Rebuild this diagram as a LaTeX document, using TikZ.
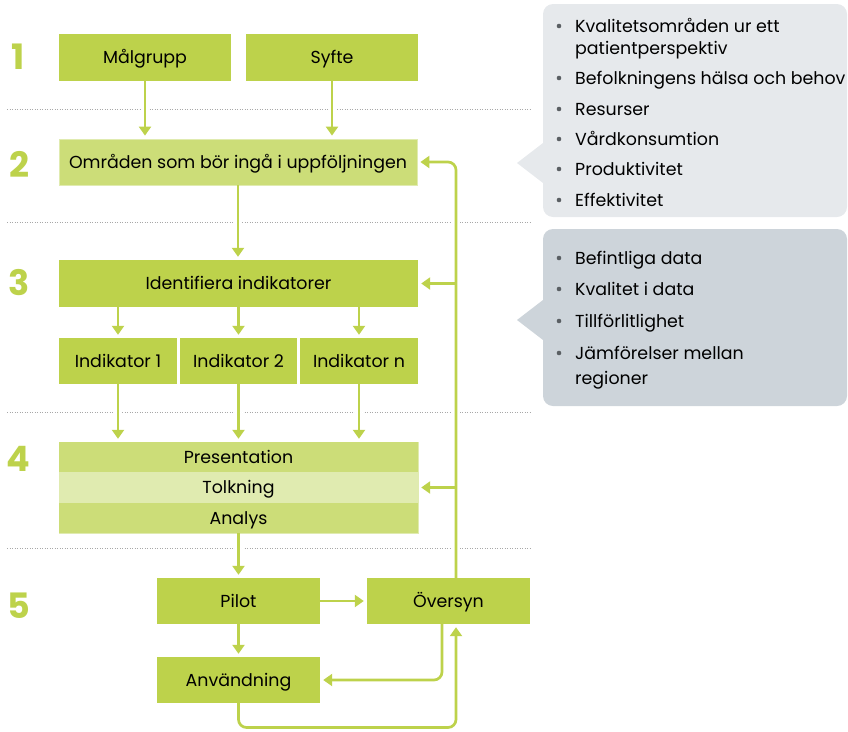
\documentclass[tikz,border=0pt]{standalone}
\usepackage{fontspec}
\setmainfont{Poppins}
\usetikzlibrary{arrows.meta,calc}
\definecolor{gA}{HTML}{BDD24B}
\definecolor{gB}{HTML}{CCDD78}
\definecolor{gC}{HTML}{E0EBB0}
\definecolor{cA}{HTML}{E6E9EC}
\definecolor{cB}{HTML}{CDD4DA}
\definecolor{dotc}{HTML}{A8A8A8}
\definecolor{bul}{HTML}{5A5F63}
\newcommand{\mainsz}{\fontsize{17.4}{20}\selectfont}
\newcommand{\numsz}{\fontsize{35}{35}\selectfont\bfseries}
\tikzset{
  box/.style={rectangle, inner sep=0pt, text=black, font=\mainsz, text height=12pt, text depth=0pt},
  dark/.style={box, fill=gA},
  light/.style={box, fill=gB, draw=gC, line width=0.8pt},
  lighter/.style={box, fill=gC},
  conn/.style={draw=gA, line width=2.7pt, -{Triangle[length=9pt,width=12pt]}, shorten >=3pt},
  dotline/.style={draw=dotc, line width=1pt, dash pattern=on 0.9pt off 1.6pt},
  gapw/.style={draw=white, line width=3pt},
  num/.style={font=\numsz, text=gA, inner sep=0pt},
  item/.style={anchor=base west, inner sep=0pt, font=\mainsz, text=black},
  bullet/.style={circle, fill=bul, inner sep=0pt, minimum size=4.6pt}
}
\begin{document}
\begin{tikzpicture}[x=1pt,y=-1pt]
\useasboundingbox (0,0) rectangle (848,731);

% callouts
\fill[cA, rounded corners=10pt] (543,4) rectangle (847,217);
\fill[cA] (543,143) -- (517,163) -- (543,183) -- cycle;
\fill[cB, rounded corners=10pt] (543,229) rectangle (847,406);
\fill[cB] (543,300) -- (517,320) -- (543,340) -- cycle;

% dotted separators
\coordinate (l1) at (0,109);
\coordinate (l2) at (0,222);
\coordinate (l3) at (0,412);
\coordinate (l4) at (0,548);
\coordinate (trk) at (456,0);
\coordinate (bot) at (0,727.5);
\foreach \y in {109,222,412,548} \draw[dotline] (7,\y) -- (531,\y);

% step numbers
\node[num] (n1) at (18,57) {1};
\node[num] (n2) at (19,164) {2};
\node[num] (n3) at (19,283) {3};
\node[num] (n4) at (18,459) {4};
\node[num] (n5) at (19,606) {5};

% boxes
\node[dark, minimum width=172pt, minimum height=47pt] (mal) at (145,57.5) {Målgrupp};
\node[dark, minimum width=172pt, minimum height=47pt] (syf) at (332,57.5) {Syfte};
\node[light, minimum width=358pt, minimum height=46pt] (omr) at (238,162) {Områden som bör ingå i uppföljningen};
\node[dark, minimum width=359pt, minimum height=47pt] (ide) at (238.5,283.5) {Identifiera indikatorer};
\node[dark, minimum width=118pt, minimum height=46pt] (i1) at (118,361) {Indikator 1};
\node[dark, minimum width=117pt, minimum height=46pt] (i2) at (238.5,361) {Indikator 2};
\node[dark, minimum width=118pt, minimum height=46pt] (in) at (359,361) {Indikator n};
\fill[gC] (58.5,441.5) rectangle (418.5,533.5);
\node[box, fill=gB, minimum width=359pt, minimum height=30pt] (pre) at (238.5,457) {Presentation};
\node[lighter, minimum width=359pt, minimum height=31pt] (tol) at (238.5,487.5) {Tolkning};
\node[box, fill=gB, minimum width=359pt, minimum height=30pt] (ana) at (238.5,518) {Analys};
\node[dark, minimum width=163pt, minimum height=46pt] (pil) at (238.5,601) {Pilot};
\node[dark, minimum width=163pt, minimum height=46pt] (ove) at (448.5,601) {Översyn};
\node[dark, minimum width=163pt, minimum height=46pt] (anv) at (238.5,680) {Användning};

% gaps in dotted lines where connectors cross
\foreach \a/\l in {mal/l1, syf/l1, omr/l2, i1/l3, i2/l3, in/l3, ana/l4}
  \draw[gapw] ($(\a.south |- \l)+(-4,0)$) -- ($(\a.south |- \l)+(4,0)$);
\foreach \l in {l2, l3, l4}
  \draw[gapw] ($(trk |- \l)+(-4,0)$) -- ($(trk |- \l)+(4,0)$);

% connectors
\draw[conn] (mal.south) -- (omr.north -| mal.south);
\draw[conn] (syf.south) -- (omr.north -| syf.south);
\draw[conn] (omr.south) -- (ide.north -| omr.south);
\draw[conn] (ide.south -| i1) -- (i1.north);
\draw[conn] (ide.south -| i2) -- (i2.north);
\draw[conn] (ide.south -| in) -- (in.north);
\draw[conn] (i1.south) -- (pre.north -| i1.south);
\draw[conn] (i2.south) -- (pre.north -| i2.south);
\draw[conn] (in.south) -- (pre.north -| in.south);
\draw[conn] (ana.south) -- (pil.north);
\draw[conn] (pil.east) -- (ove.west);
\draw[conn] (pil.south) -- (anv.north);
\draw[conn, rounded corners=8pt] (ove.north -| trk) |- (omr.east);
\draw[conn] (trk |- ide.east) -- (ide.east);
\draw[conn] (trk |- tol.east) -- (tol.east);
\draw[conn, rounded corners=8pt] ($(ove.south)+(-6.5,0)$) |- (anv.east);
\draw[conn, rounded corners=8pt] (anv.south) -- (anv.south |- bot) -| (ove.south -| trk);

% callout texts
\foreach \y in {32,84,115,145,175,206,264,295,327,359}
  \node[bullet] at (559,\y-6) {};
\node[item] (t1) at (575,32) {Kvalitetsområden ur ett};
\node[item] (t1b) at (575,54) {patientperspektiv};
\node[item] (t2) at (575,84) {Befolkningens hälsa och behov};
\node[item] (t3) at (575,115) {Resurser};
\node[item] (t4) at (575,145) {Vårdkonsumtion};
\node[item] (t5) at (575,175) {Produktivitet};
\node[item] (t6) at (575,206) {Effektivitet};
\node[item] (u1) at (575,264) {Befintliga data};
\node[item] (u2) at (575,295) {Kvalitet i data};
\node[item] (u3) at (575,327) {Tillförlitlighet};
\node[item] (u4) at (575,359) {Jämförelser mellan};
\node[item] (u4b) at (575,384) {regioner};
\end{tikzpicture}
\end{document}
